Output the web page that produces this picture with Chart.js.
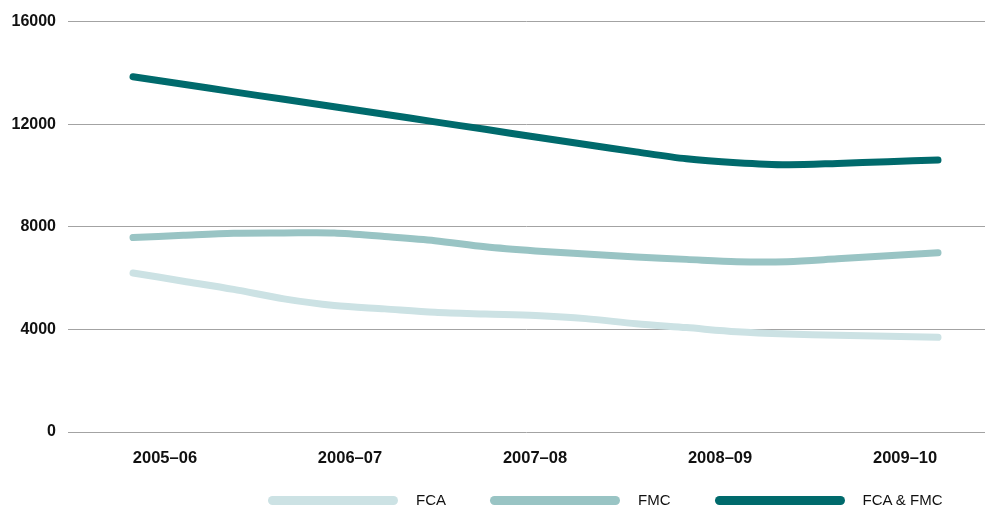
<!DOCTYPE html>
<html>
<head>
<meta charset="utf-8">
<script src="https://cdn.jsdelivr.net/npm/chart.js@4.4.1/dist/chart.umd.min.js"></script>
<style>
  html,body{margin:0;padding:0;background:#fff}
  #wrap{position:relative;width:985px;height:510px;overflow:hidden}
  #lg{position:absolute;left:268px;top:491px;width:720px;display:flex;align-items:center;white-space:nowrap;
      font-family:'Liberation Sans',Arial,sans-serif;font-size:15px;color:#111}
  #lg span{display:flex;align-items:center;flex:none;margin-right:44px;line-height:18px}
  #lg i{display:inline-block;flex:none;width:130px;height:9px;border-radius:5px;margin-right:18px}
</style>
</head>
<body>
<div id="wrap">
  <canvas id="c" width="985" height="510"></canvas>
  <div id="lg"></div>
</div>
<script>
/* 연도 라벨 (x축) */
const PERIODS = ['2005–06','2006–07','2007–08','2008–09','2009–10'];
const Y_TICKS = [0, 4000, 8000, 12000, 16000];

/* 분기별 값 (17개 지점, 그림에서 읽음) */
const FCA = [6200,5880,5560,5190,4930,4800,4670,4600,4540,4420,4220,4070,3910,3820,3770,3730,3690];
const FMC = [7580,7670,7750,7760,7760,7620,7460,7220,7060,6940,6820,6730,6640,6640,6750,6870,6990];
const BOTH = [13850,13560,13260,12970,12680,12390,12090,11800,11500,11210,10920,10650,10500,10420,10470,10540,10600];

const SERIES = [
  { name:'FCA',       data:FCA,  color:'#cce2e4' },
  { name:'FMC',       data:FMC,  color:'#99c4c4' },
  { name:'FCA & FMC', data:BOTH, color:'#006a6c' }
];

const FONT = "'Liberation Sans', Arial, Helvetica, sans-serif";

new Chart(document.getElementById('c'), {
  type:'line',
  data:{
    datasets: SERIES.map(s => ({
      label:s.name,
      data:s.data.map((v,i)=>({x:i, y:v})),
      xAxisID:'x', yAxisID:'y',
      borderColor:s.color, backgroundColor:s.color,
      borderWidth:7, borderCapStyle:'round', borderJoinStyle:'round',
      tension:.3, pointRadius:0, fill:false
    }))
  },
  options:{
    responsive:false, animation:false,
    layout:{ padding:{ top:21, right:0, bottom:0, left:0 } },
    plugins:{ legend:{display:false}, tooltip:{enabled:false} },
    scales:{
      x:{ type:'linear', display:false, min:-1.292, max:16.934 },
      xl:{
        type:'linear', position:'bottom', min:-0.524, max:4.432,
        grid:{display:false, drawTicks:false}, border:{display:false},
        afterBuildTicks: a => { a.ticks = PERIODS.map((_,i)=>({value:i})); },
        afterFit: a => { a.height = 78; },
        ticks:{ padding:17, maxRotation:0, autoSkip:false, color:'#111',
                font:{family:FONT, size:16.5, weight:'bold'},
                callback: v => PERIODS[Math.round(v)] }
      },
      y:{
        min:0, max:16000,
        afterBuildTicks: a => { a.ticks = Y_TICKS.map(v=>({value:v})); },
        afterFit: a => { a.width = 68; },
        grid:{ color:'#a3a3a3', lineWidth:1, drawTicks:false },
        border:{ display:false },
        ticks:{ padding:12, color:'#111', font:{family:FONT, size:16, weight:'bold'},
                callback: v => String(v) }
      }
    }
  }
});

document.getElementById('lg').innerHTML = SERIES.map(s =>
  `<span><i style="background:${s.color}"></i>${s.name}</span>`).join('');
</script>
</body>
</html>
